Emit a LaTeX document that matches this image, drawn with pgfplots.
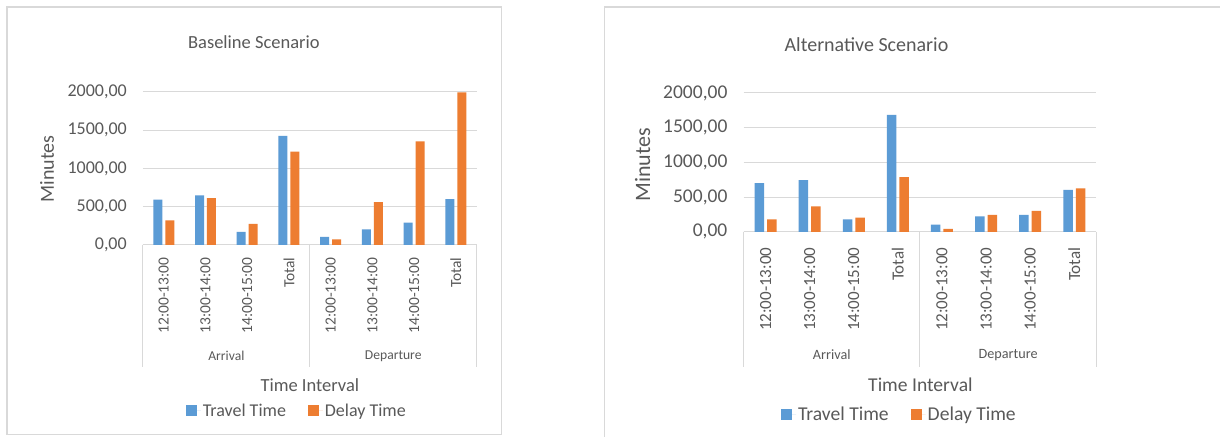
\documentclass[border=0pt]{standalone}
\usepackage{fontspec}
\setmainfont{Carlito}
\usepackage{pgfplots}
\usepackage{pgfplotstable}
\pgfplotsset{compat=1.18}

\definecolor{xlblue}{HTML}{5B9BD5}
\definecolor{xlorange}{HTML}{ED7D31}
\definecolor{txtgray}{HTML}{595959}
\definecolor{gridgray}{HTML}{D9D9D9}

% baseline scenario (minutes)
\pgfplotstableread{
x travel delay
0 593 321
1 646 611
2 171 273
3 1424 1218
4 105 70
5 202 558
6 290 1354
7 597 1995
}\baseline

% alternative scenario (minutes)
\pgfplotstableread{
x travel delay
0 702 181
1 745 368
2 181 205
3 1685 788
4 105 43
5 224 243
6 243 301
7 606 625
}\alternative

\newcommand{\fs}[1]{\fontsize{#1}{#1}\selectfont}

\pgfplotsset{
  scen/.style={
    scale only axis, anchor=south west, clip=false,
    ymin=0, ymax=2000, ytick={0,500,...,2000},
    xmin=-0.5, xmax=7.5, xtick={0,...,7},
    xticklabels={12:00-13:00,13:00-14:00,14:00-15:00,Total,12:00-13:00,13:00-14:00,14:00-15:00,Total},
    axis x line*=bottom, axis y line*=left,
    x axis line style={gridgray, line width=1pt},
    y axis line style={draw=none},
    tick style={draw=none},
    ymajorgrids, grid style={gridgray, line width=1pt},
    ybar=3pt, bar width=9pt,
    ticklabel style={text=txtgray},
    xticklabel style={rotate=90, anchor=east},
    yticklabel style={anchor=east, inner xsep=0pt, xshift=-16pt},
    /pgf/number format/fixed,
    /pgf/number format/fixed zerofill,
    /pgf/number format/precision=2,
    /pgf/number format/use comma,
    /pgf/number format/1000 sep={},
    /pgf/number format/assume math mode=true,
    legend columns=2,
    legend style={draw=none, fill=none, text=txtgray, anchor=center,
      /tikz/every even column/.append style={column sep=20pt}},
    legend image code/.code={\fill[##1] (0pt,-5.5pt) rectangle (11pt,5.5pt);
      \path (0pt,0pt) -- (15pt,0pt);},
  }
}

\begin{document}
\begin{tikzpicture}[x=1pt,y=1pt]
\fill[white] (0,0) rectangle (1221,437);

% ---- left panel ----
\draw[gridgray, line width=1.5pt] (7,2) rectangle (502,430);
\node[text=txtgray, font=\fs{18.5}] at (254,395) {Baseline Scenario};
\node[text=txtgray, font=\fs{20}, rotate=90] at (47,268) {Minutes};
\node[text=txtgray, font=\fs{18.5}] at (310,52) {Time Interval};

\begin{axis}[scen, at={(143pt,192pt)}, width=334pt, height=153pt,
    yticklabel style={font=\fs{18}},
    xticklabel style={font=\fs{15.5}},
    xticklabel shift=5pt,
    legend style={at={(0.461,-1.085)}, font=\fs{18}}]
  \addplot[fill=xlblue, draw=none] table[x=x, y=travel] {\baseline};
  \addplot[fill=xlorange, draw=none] table[x=x, y=delay] {\baseline};
  \legend{Travel Time, Delay Time}
  \draw[gridgray, line width=1pt] (axis cs:-0.5,0) -- ++(0pt,-122pt);
  \draw[gridgray, line width=1pt] (axis cs:3.5,0) -- ++(0pt,-122pt);
  \draw[gridgray, line width=1pt] (axis cs:7.5,0) -- ++(0pt,-122pt);
  \node[text=txtgray, font=\fs{13.6}] at (axis cs:1.5,0) [yshift=-111pt] {Arrival};
  \node[text=txtgray, font=\fs{13.6}] at (axis cs:5.5,0) [yshift=-111pt] {Departure};
\end{axis}

% ---- right panel ----
\draw[gridgray, line width=1.5pt] (605,0) -- (605,430) -- (1221,430);
\node[text=txtgray, font=\fs{20}] at (867,392) {Alternative Scenario};
\node[text=txtgray, font=\fs{22}, rotate=90] at (643,272) {Minutes};
\node[text=txtgray, font=\fs{19.6}] at (921,52) {Time Interval};

\begin{axis}[scen, at={(744pt,205pt)}, width=353pt, height=139pt,
    bar width=9.5pt,
    yticklabel style={font=\fs{19.5}},
    xticklabel style={font=\fs{17}},
    xticklabel shift=8pt,
    legend style={at={(0.442,-1.317)}, font=\fs{19.6}}]
  \addplot[fill=xlblue, draw=none] table[x=x, y=travel] {\alternative};
  \addplot[fill=xlorange, draw=none] table[x=x, y=delay] {\alternative};
  \legend{Travel Time, Delay Time}
  \draw[gridgray, line width=1pt] (axis cs:-0.5,0) -- ++(0pt,-135pt);
  \draw[gridgray, line width=1pt] (axis cs:3.5,0) -- ++(0pt,-135pt);
  \draw[gridgray, line width=1pt] (axis cs:7.5,0) -- ++(0pt,-135pt);
  \node[text=txtgray, font=\fs{14.2}] at (axis cs:1.5,0) [yshift=-123pt] {Arrival};
  \node[text=txtgray, font=\fs{14.2}] at (axis cs:5.5,0) [yshift=-123pt] {Departure};
\end{axis}
\end{tikzpicture}
\end{document}
